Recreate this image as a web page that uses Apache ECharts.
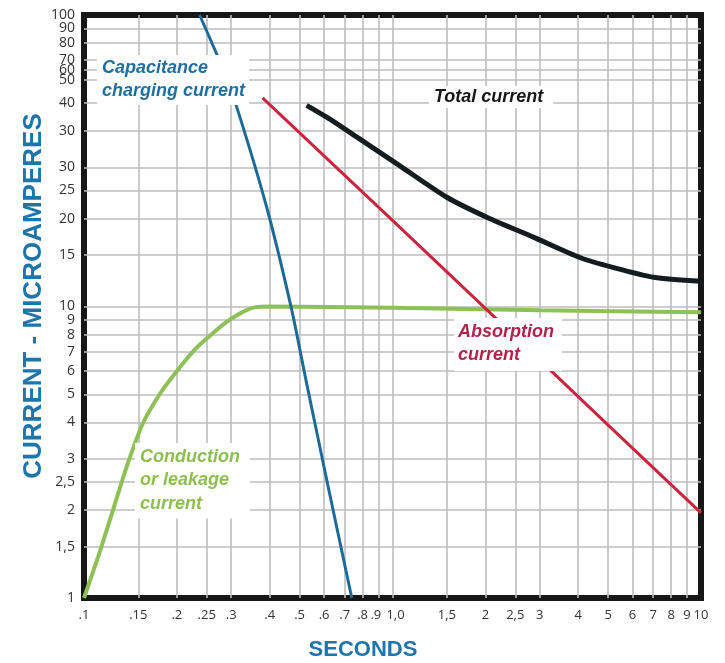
<!DOCTYPE html>
<html>
<head>
<meta charset="utf-8">
<style>
  html, body { margin: 0; padding: 0; background: #fff; }
  #main { width: 725px; height: 663px; }
</style>
<script src="https://cdn.jsdelivr.net/npm/echarts@6/dist/echarts.min.js"></script>
</head>
<body>
<div id="main"></div>
<script>
// time in seconds (x), current in microamperes (y), both on log scales
const xTickValues = [0.1, 0.15, 0.2, 0.25, 0.3, 0.4, 0.5, 0.6, 0.7, 0.8, 0.9, 1, 1.5, 2, 2.5, 3, 4, 5, 6, 7, 8, 9, 10];
const xTickLabels = ['.1', '.15', '.2', '.25', '.3', '.4', '.5', '.6', '.7', '.8', '.9', '1,0', '1,5', '2', '2,5', '3', '4', '5', '6', '7', '8', '9', '10'];
const yTickValues = [1, 1.5, 2, 2.5, 3, 4, 5, 6, 7, 8, 9, 10, 15, 20, 25, 30, 40, 50, 60, 65, 70, 80, 90, 100];
const yTickLabels = ['1', '1,5', '2', '2,5', '3', '4', '5', '6', '7', '8', '9', '10', '15', '20', '25', '30', '30', '40', '50', '60', '70', '80', '90', '100'];

const leakageTime = [0.1, 0.112, 0.123, 0.138, 0.155, 0.178, 0.204, 0.231, 0.261, 0.29, 0.312, 0.335, 0.36, 0.4, 1, 3, 10];
const leakageCurrent = [1, 1.42, 1.94, 2.85, 3.96, 5.1, 6.17, 7.2, 8.08, 8.85, 9.31, 9.7, 9.95, 10, 9.9, 9.7, 9.55];

const absorptionTime = [0.379, 1, 2, 5, 10];
const absorptionCurrent = [52, 19.75, 9.85, 3.92, 1.96];

const chargingTime = [0.237, 0.281, 0.312, 0.391, 0.471, 0.527, 0.616, 0.738];
const chargingCurrent = [100, 66, 48.7, 21.9, 9.77, 5.44, 2.46, 1];

const totalTime = [0.527, 0.612, 0.767, 1.06, 1.5, 2.03, 2.86, 4.07, 5.21, 7.03, 10];
const totalCurrent = [49, 44.6, 38.1, 30.3, 23.7, 20.2, 17.3, 14.7, 13.6, 12.6, 12.2];

const lg = Math.log10;
const pts = (ts, vs) => ts.map((t, i) => [lg(t), lg(vs[i])]);
const labelOf = (vals, labels) => v => {
  const i = vals.findIndex(x => Math.abs(lg(x) - v) < 1e-6);
  if (i < 0) return '';
  // nudge the two crowded labels around 1 s apart
  if (labels[i] === '.9') return '{l|.9}';
  if (labels[i] === '1,0') return '{r|1,0}';
  return labels[i];
};

const labelBase = { color: '#333', fontFamily: 'Open Sans', hideOverlap: false };
const noteFont = 'italic bold 18px "Liberation Sans", Arial, sans-serif';
const gridLine = { show: true, lineStyle: { color: '#bdbdbd', width: 1.6 } };
const yTop = yTickValues[yTickValues.length - 1];

const chart = echarts.init(document.getElementById('main'));
chart.setOption({
  animation: false,
  backgroundColor: '#fff',
  grid: { left: 84, right: 24, top: 15, bottom: 65, show: true, borderColor: '#171717', borderWidth: 6 },
  xAxis: {
    type: 'value', min: -1, max: 1,
    axisLine: { show: false },
    axisTick: { show: false, customValues: xTickValues.slice(1, -1).map(lg) },
    splitLine: gridLine,
    axisLabel: Object.assign({
      customValues: xTickValues.map(lg), formatter: labelOf(xTickValues, xTickLabels), margin: 11, fontSize: 13,
      showMinLabel: true, showMaxLabel: true,
      rich: { l: { fontSize: 13, fontFamily: 'Open Sans', color: '#333', padding: [0, 5, 0, 0] }, r: { fontSize: 13, fontFamily: 'Open Sans', color: '#333', padding: [0, 0, 0, 6] } }
    }, labelBase)
  },
  yAxis: [
    {
      type: 'value', min: 0, max: 2,
      axisLine: { show: false },
      axisTick: { show: false, customValues: yTickValues.slice(1, -1).map(lg) },
      splitLine: gridLine,
      axisLabel: Object.assign({ customValues: yTickValues.slice(0, -1).map(lg), formatter: labelOf(yTickValues, yTickLabels), margin: 9, fontSize: 14, showMinLabel: true, showMaxLabel: true }, labelBase)
    },
    {
      // carries only the top label so the crowded top labels all stay visible
      type: 'value', min: 0, max: 2, position: 'left',
      axisLine: { show: false }, axisTick: { show: false }, splitLine: { show: false },
      axisLabel: Object.assign({ customValues: [lg(yTop)], formatter: labelOf(yTickValues, yTickLabels), margin: 9, fontSize: 14, showMaxLabel: true }, labelBase)
    }
  ],
  series: [
    { name: 'Conduction or leakage current', type: 'line', data: pts(leakageTime, leakageCurrent), smooth: 0.25, showSymbol: false, lineStyle: { color: '#8dc157', width: 4 } },
    { name: 'Absorption current', type: 'line', data: pts(absorptionTime, absorptionCurrent), showSymbol: false, lineStyle: { color: '#c9253f', width: 3 } },
    { name: 'Capacitance charging current', type: 'line', data: pts(chargingTime, chargingCurrent), smooth: 0.2, showSymbol: false, lineStyle: { color: '#1d6a98', width: 3 } },
    { name: 'Total current', type: 'line', data: pts(totalTime, totalCurrent), smooth: 0.25, showSymbol: false, lineStyle: { color: '#141c1e', width: 5 } }
  ],
  graphic: [
    { type: 'text', x: 97, y: 55, z: 100, style: { text: 'Capacitance\ncharging current', font: noteFont, fill: '#1f6fa1', lineHeight: 23, backgroundColor: '#fff', padding: [2, 4, 2, 5] } },
    { type: 'text', x: 429, y: 86, z: 100, style: { text: 'Total current', font: noteFont, fill: '#161616', backgroundColor: '#fff', padding: [2, 10, 2, 5] } },
    { type: 'text', x: 454, y: 318, z: 100, style: { text: 'Absorption\ncurrent', font: noteFont, fill: '#b3224a', lineHeight: 23, backgroundColor: '#fff', padding: [3, 8, 4, 4] } },
    { type: 'text', x: 135, y: 443, z: 100, style: { text: 'Conduction\nor leakage\ncurrent', font: noteFont, fill: '#8cbf4e', lineHeight: 23.5, backgroundColor: '#fff', padding: [2, 10, 3, 5] } },
    { type: 'text', x: 34, y: 296, rotation: Math.PI / 2, z: 100, style: { text: 'CURRENT - MICROAMPERES', font: 'bold 26px "Liberation Sans", Arial, sans-serif', fill: '#1c75ab', align: 'center', verticalAlign: 'middle' } },
    { type: 'text', x: 363, y: 650, z: 100, style: { text: 'SECONDS', font: 'bold 22px "Liberation Sans", Arial, sans-serif', fill: '#1c75ab', align: 'center', verticalAlign: 'middle' } }
  ]
});
</script>
</body>
</html>
